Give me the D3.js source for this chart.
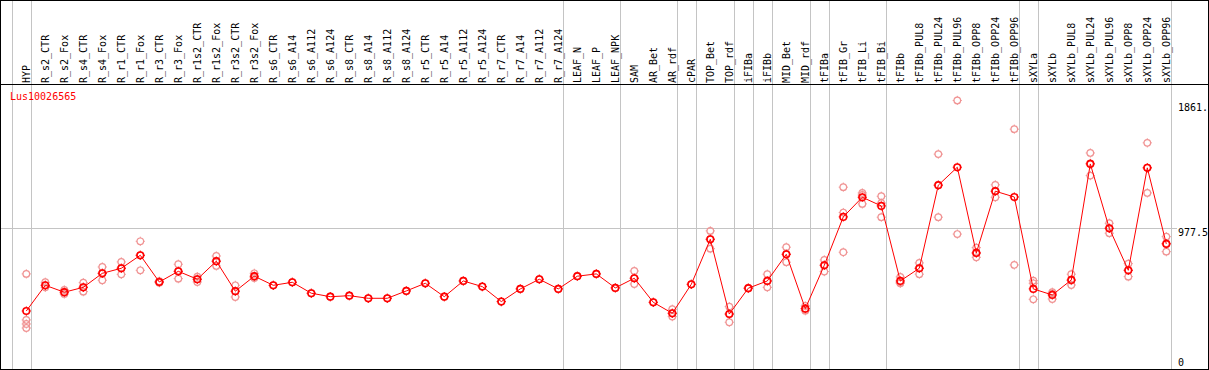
<!DOCTYPE html>
<html>
<head>
<meta charset="utf-8">
<script src="https://cdn.jsdelivr.net/npm/d3@7"></script>
<style>
body { margin: 0; background: #fff; }
text { font-family: "DejaVu Sans Mono", monospace; font-size: 10px; }
</style>
</head>
<body>
<script>
var width = 1209, height = 370;

var geneName = "Lus10026565";

var samples = ["HYP", "R_s2_CTR", "R_s2_Fox", "R_s4_CTR", "R_s4_Fox", "R_r1_CTR", "R_r1_Fox",
    "R_r3_CTR", "R_r3_Fox", "R_r1s2_CTR", "R_r1s2_Fox", "R_r3s2_CTR", "R_r3s2_Fox",
    "R_s6_CTR", "R_s6_A14", "R_s6_A112", "R_s6_A124", "R_s8_CTR", "R_s8_A14", "R_s8_A112", "R_s8_A124",
    "R_r5_CTR", "R_r5_A14", "R_r5_A112", "R_r5_A124", "R_r7_CTR", "R_r7_A14", "R_r7_A112", "R_r7_A124",
    "LEAF_N", "LEAF_P", "LEAF_NPK", "SAM", "AR_Bet", "AR_rdf", "cPAR", "TOP_Bet", "TOP_rdf",
    "iFIBa", "iFIBb", "MID_Bet", "MID_rdf", "tFIBa", "tFIB_Gr", "tFIB_Li", "tFIB_Bi",
    "tFIBb", "tFIBb_PUL8", "tFIBb_PUL24", "tFIBb_PUL96", "tFIBb_OPP8", "tFIBb_OPP24", "tFIBb_OPP96",
    "sXYLa", "sXYLb", "sXYLb_PUL8", "sXYLb_PUL24", "sXYLb_PUL96", "sXYLb_OPP8", "sXYLb_OPP24", "sXYLb_OPP96"];

// mean expression per sample
var means = [402, 580, 532, 566, 663, 698, 788, 603, 677, 622, 747, 539, 643,
    580, 601, 525, 501, 508, 490, 490, 541, 594, 501, 610, 571, 467, 555, 622, 555,
    643, 659, 562, 629, 462, 386, 587, 899, 381, 560, 610, 795, 418, 719, 1054, 1190, 1130,
    610, 698, 1274, 1398, 804, 1232, 1192, 555, 513, 617, 1421, 975, 684, 1394, 867];

// replicate values per sample
var replicates = [
    [659, 340, 312, 284], [601, 580, 566], [548, 532, 520], [598, 566, 536], [707, 663, 615],
    [742, 698, 656], [885, 788, 684], [608, 603, 598], [726, 677, 626], [640, 622, 603],
    [783, 747, 714], [580, 539, 499], [663, 636, 630],
    [580], [601], [525], [501], [508], [490], [490], [541], [594], [501], [610], [571],
    [467], [555], [622], [555], [643], [659], [562],
    [679, 629, 589], [462], [414, 386, 363], [587], [957, 899, 834], [432, 381, 324],
    [562, 558], [657, 610, 566], [844, 795, 740], [437, 418, 404], [756, 719, 675],
    [1260, 1084, 809], [1220, 1206, 1144], [1197, 1150, 1052],
    [638, 598, 594], [735, 698, 657], [1489, 1274, 1052], [1861, 935], [841, 804, 774],
    [1276, 1232, 1190], [1662, 721], [612, 594, 483], [532, 522, 485], [657, 613, 582],
    [1497, 1425, 1340], [1010, 975, 941], [730, 684, 640], [1567, 1394, 1220], [917, 870, 813]];

// index of the last sample of each tissue group (-1 = left edge)
var groupEnds = [-1, 0, 28, 31, 34, 35, 37, 38, 39, 41, 42, 45, 52, 53, 60];

var yMax = 1861;
var yLabels = ["1861.", "977.5", "0"];
var yValues = [yMax, yMax * 1.05 / 2, 0];

var headerY = 84.5, plotBottom = 369;

var x = d3.scalePoint(samples, [26.3, 1166.3]);
var y = d3.scaleLinear([0, yMax * 1.05], [plotBottom, 87]);
var step = x.step();

var svg = d3.select("body")
    .append("svg")
    .attr("width", width)
    .attr("height", height);

// group separators
svg.append("g")
    .selectAll("line")
    .data(groupEnds)
    .join("line")
    .attr("x1", d => Math.round(x(samples[0]) + d * step + 4.4) + 0.5)
    .attr("x2", d => Math.round(x(samples[0]) + d * step + 4.4) + 0.5)
    .attr("y1", 0)
    .attr("y2", plotBottom)
    .attr("stroke", "#c4c4c4")
    .attr("shape-rendering", "crispEdges");

// middle grid line
svg.append("line")
    .attr("x1", 0)
    .attr("x2", 1177)
    .attr("y1", Math.round(y(yValues[1])) + 0.5)
    .attr("y2", Math.round(y(yValues[1])) + 0.5)
    .attr("stroke", "#c4c4c4")
    .attr("shape-rendering", "crispEdges");

// frame and header line
svg.append("rect")
    .attr("x", 0.5)
    .attr("y", 0.5)
    .attr("width", 1207.5)
    .attr("height", plotBottom)
    .attr("fill", "none")
    .attr("stroke", "#000")
    .attr("shape-rendering", "crispEdges");
svg.append("line")
    .attr("x1", 0)
    .attr("x2", width)
    .attr("y1", headerY)
    .attr("y2", headerY)
    .attr("stroke", "#000")
    .attr("shape-rendering", "crispEdges");

// sample labels
svg.append("g")
    .selectAll("text")
    .data(samples)
    .join("text")
    .attr("transform", d => `translate(${x(d) + 3.2}, ${headerY - 1.5}) rotate(-90)`)
    .attr("fill", "#000")
    .text(d => d);

// y labels
svg.append("g")
    .selectAll("text")
    .data(yLabels)
    .join("text")
    .attr("x", 1178)
    .attr("y", (d, i) => y(yValues[i]) + [10.5, 8, -3][i])
    .attr("fill", "#000")
    .text(d => d);

svg.append("text")
    .attr("x", 10)
    .attr("y", 100)
    .attr("fill", "red")
    .text(geneName);

var marker = "M0,-4.6V-3.2M0,3.2V4.6M-4.6,0H-3.2M3.2,0H4.6";

// replicates
var repData = [];
replicates.forEach((r, i) => r.forEach(v => repData.push({ s: samples[i], v: v })));
var reps = svg.append("g")
    .selectAll("g")
    .data(repData)
    .join("g")
    .attr("transform", d => `translate(${x(d.s)}, ${y(d.v)})`)
    .attr("stroke", "#f09494")
    .attr("fill", "none");
reps.append("circle").attr("r", 3.3).attr("stroke-width", 1.2);
reps.append("path").attr("d", marker);

// mean line
svg.append("path")
    .datum(means)
    .attr("fill", "none")
    .attr("stroke", "red")
    .attr("stroke-width", 1)
    .attr("d", d3.line((d, i) => x(samples[i]), d => y(d)));

var pts = svg.append("g")
    .selectAll("g")
    .data(means)
    .join("g")
    .attr("transform", (d, i) => `translate(${x(samples[i])}, ${y(d)})`)
    .attr("stroke", "red")
    .attr("fill", "none");
pts.append("circle").attr("r", 3.3).attr("stroke-width", 1.6);
pts.append("path").attr("d", marker);
</script>
</body>
</html>
